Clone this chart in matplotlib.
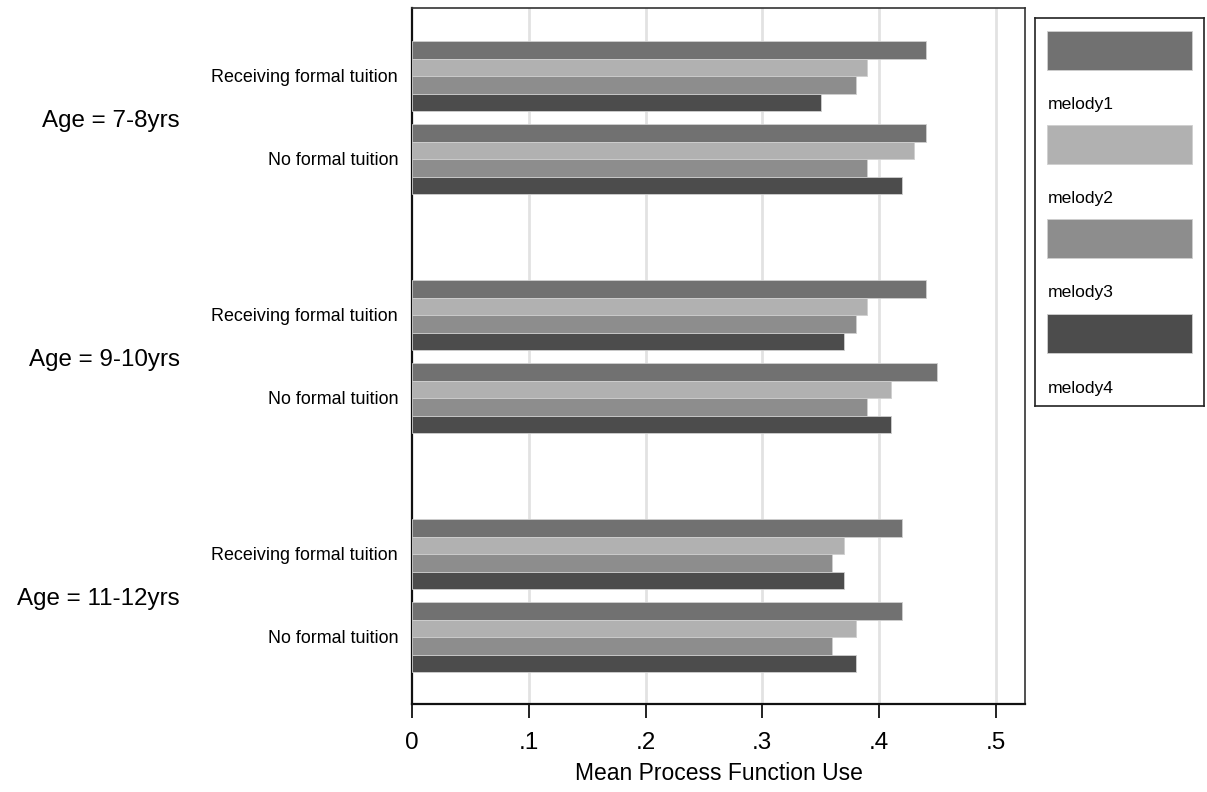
import matplotlib
matplotlib.use("Agg")
import matplotlib.pyplot as plt
import matplotlib.transforms as mtransforms
from matplotlib.patches import Rectangle
import numpy as np

plt.rcParams["font.family"] = ["Liberation Sans", "DejaVu Sans"]

# data
ages = ["Age = 7-8yrs", "Age = 9-10yrs", "Age = 11-12yrs"]
tuition = ["Receiving formal tuition", "No formal tuition"]
melodies = ["melody1", "melody2", "melody3", "melody4"]
colors = ["#717171", "#b1b1b1", "#8d8d8d", "#4c4c4c"]

melody1 = [0.44, 0.44, 0.44, 0.45, 0.42, 0.42]
melody2 = [0.39, 0.43, 0.39, 0.41, 0.37, 0.38]
melody3 = [0.38, 0.39, 0.38, 0.39, 0.36, 0.36]
melody4 = [0.35, 0.42, 0.37, 0.41, 0.37, 0.38]
series = [melody1, melody2, melody3, melody4]

# layout (bar height = 1 unit)
top_pad = 1.875
group_step = 13.58
sub_step = 4.716

fig = plt.figure(figsize=(12.07, 7.92), dpi=100)
ax = fig.add_axes([412 / 1207, 1 - 704 / 792, (1025 - 412) / 1207, (704 - 8) / 792])

blend = mtransforms.blended_transform_factory(fig.transFigure, ax.transData)

for g, age in enumerate(ages):
    for s, lab in enumerate(tuition):
        row = g * 2 + s
        base = top_pad + g * group_step + s * sub_step
        for m in range(4):
            ax.barh(base + m + 0.5, series[m][row], height=1.0, color=colors[m],
                    edgecolor="#cfcfcf", linewidth=0.6, zorder=3)
        ax.text(398 / 1207, base + 2.1, lab, transform=blend, ha="right",
                va="center", fontsize=12.9)
    gc = top_pad + g * group_step + (sub_step + 4) / 2
    ax.text(180 / 1207, gc + 0.2, age, transform=blend, ha="right", va="center",
            fontsize=17.4)

ax.set_ylim(696 / 17.6, 0)
ax.set_xlim(0, 0.525)
ax.set_yticks([])
ticks = [0, 0.1, 0.2, 0.3, 0.4, 0.5]
ax.set_xticks(ticks)
ax.set_xticklabels(["0", ".1", ".2", ".3", ".4", ".5"], fontsize=17.5)
ax.tick_params(axis="x", length=10, width=1.4, pad=10, color="#222222")
for t in ticks[1:]:
    ax.axvline(t, color="#e2e2e2", linewidth=2, zorder=1)
ax.set_xlabel("Mean Process Function Use", fontsize=16.5, labelpad=6)

for sp in ["top", "right"]:
    ax.spines[sp].set_linewidth(1.2)
    ax.spines[sp].set_color("#333333")
for sp in ["left", "bottom"]:
    ax.spines[sp].set_linewidth(1.6)
    ax.spines[sp].set_color("#111111")

# legend box drawn as its own axes (key above label)
lax = fig.add_axes([1035 / 1207, 1 - 406 / 792, (1204 - 1035) / 1207, (406 - 18) / 792])
lax.set_xlim(1035, 1204)
lax.set_ylim(406, 18)
lax.set_xticks([])
lax.set_yticks([])
for sp in lax.spines.values():
    sp.set_linewidth(1.2)
    sp.set_color("#222222")
key_tops = [31, 125, 219, 314]
label_y = [105, 198, 293, 388]
for m, name in enumerate(melodies):
    lax.add_patch(Rectangle((1047, key_tops[m]), 145, 39, facecolor=colors[m],
                            edgecolor="#cfcfcf", linewidth=0.6))
    lax.text(1048, label_y[m], name, ha="left", va="center", fontsize=12.6)

fig.savefig("out.png", dpi=100)
